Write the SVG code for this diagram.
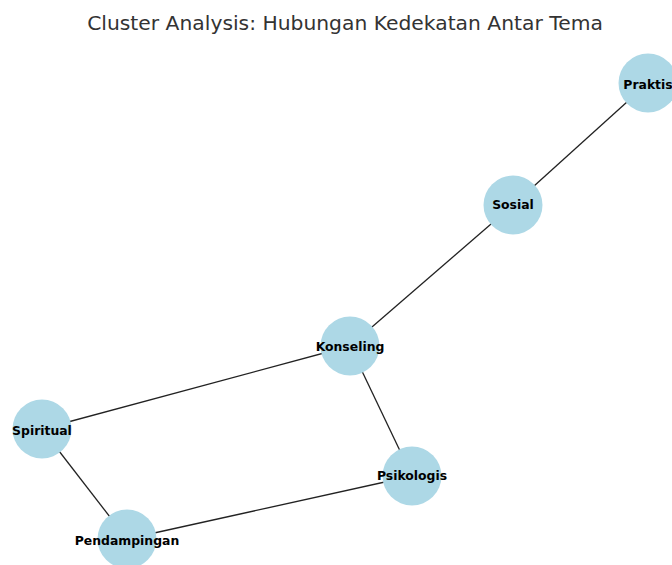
<svg xmlns="http://www.w3.org/2000/svg" width="672" height="565" viewBox="0 0 672 565">
<style>
.title{font-family:"DejaVu Sans",sans-serif;font-size:20.3px;fill:#333;text-anchor:middle}
.edge{stroke:#222;stroke-width:1.3;fill:none}
.node circle{fill:#ADD8E6}
.node text{font-family:"DejaVu Sans",sans-serif;font-size:12.4px;font-weight:bold;fill:#000;text-anchor:middle;dominant-baseline:central}
</style>
<rect width="672" height="565" fill="#fff"/>
<text class="title" x="345" y="30">Cluster Analysis: Hubungan Kedekatan Antar Tema</text>
<g id="edges">
<line class="edge" x1="648" y1="83" x2="513" y2="205"/>
<line class="edge" x1="513" y1="205" x2="350" y2="346"/>
<line class="edge" x1="350" y1="346" x2="42" y2="429"/>
<line class="edge" x1="350" y1="346" x2="412" y2="476"/>
<line class="edge" x1="42" y1="429" x2="127" y2="539"/>
<line class="edge" x1="127" y1="539" x2="412" y2="476"/>
</g>
<g id="node-praktis" class="node"><circle cx="648" cy="83" r="29.5"/><text x="648" y="84">Praktis</text></g>
<g id="node-sosial" class="node"><circle cx="513" cy="205" r="29.5"/><text x="513" y="204">Sosial</text></g>
<g id="node-konseling" class="node"><circle cx="350" cy="346" r="29.5"/><text x="350" y="346">Konseling</text></g>
<g id="node-spiritual" class="node"><circle cx="42" cy="429" r="29.5"/><text x="42" y="430">Spiritual</text></g>
<g id="node-psikologis" class="node"><circle cx="412" cy="476" r="29.5"/><text x="412" y="475">Psikologis</text></g>
<g id="node-pendampingan" class="node"><circle cx="127" cy="539" r="29.5"/><text x="127" y="540">Pendampingan</text></g>
</svg>
